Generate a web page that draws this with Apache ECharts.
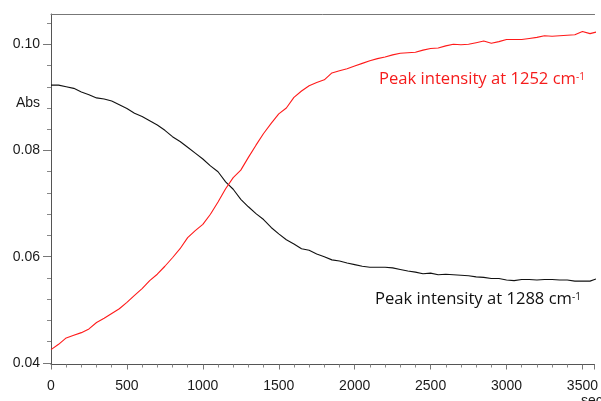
<!DOCTYPE html>
<html>
	<head>
		<title>Peak intensity</title>
		<script src="https://cdn.jsdelivr.net/npm/echarts@6/dist/echarts.min.js"></script>
	</head>
	<body style="margin:0;padding:0">
		<div id="main" style="width: 601px;height:401px;"></div>
	</body>
	<script type="text/javascript">
// time (sec)
var times = [0, 50, 100, 150, 200, 250, 300, 350, 400, 450, 500, 550, 600, 650, 700, 750, 800, 850, 900, 950,
    1000, 1050, 1100, 1150, 1200, 1250, 1300, 1350, 1400, 1450, 1500, 1550, 1600, 1650, 1700, 1750, 1800, 1850, 1900, 1950,
    2000, 2050, 2100, 2150, 2200, 2250, 2300, 2350, 2400, 2450, 2500, 2550, 2600, 2650, 2700, 2750, 2800, 2850, 2900, 2950,
    3000, 3050, 3100, 3150, 3200, 3250, 3300, 3350, 3400, 3450, 3500, 3550, 3590];
// peak at 1252 cm-1 (red)
var peak1252 = [0.0425, 0.0435, 0.0447, 0.0452, 0.0457, 0.0464, 0.0476, 0.0484, 0.0493, 0.0502, 0.0514, 0.0527, 0.0540, 0.0555, 0.0567, 0.0582, 0.0598, 0.0615, 0.0636, 0.0649,
    0.0661, 0.0680, 0.0703, 0.0728, 0.0749, 0.0763, 0.0787, 0.0810, 0.0832, 0.0851, 0.0869, 0.0880, 0.0900, 0.0912, 0.0922, 0.0928, 0.0933, 0.0946, 0.0950, 0.0954,
    0.0959, 0.0964, 0.0969, 0.0973, 0.0976, 0.0980, 0.0983, 0.0984, 0.0985, 0.0989, 0.0992, 0.0993, 0.0997, 0.1000, 0.0999, 0.1000, 0.1003, 0.1006, 0.1002, 0.1005,
    0.1009, 0.1009, 0.1009, 0.1011, 0.1013, 0.1016, 0.1015, 0.1016, 0.1017, 0.1018, 0.1024, 0.1020, 0.1023];
// peak at 1288 cm-1 (black)
var peak1288 = [0.0923, 0.0923, 0.0920, 0.0917, 0.0910, 0.0905, 0.0899, 0.0897, 0.0893, 0.0886, 0.0879, 0.0870, 0.0864, 0.0856, 0.0848, 0.0838, 0.0826, 0.0817, 0.0806, 0.0795,
    0.0784, 0.0771, 0.0760, 0.0741, 0.0727, 0.0708, 0.0694, 0.0681, 0.0670, 0.0655, 0.0643, 0.0632, 0.0624, 0.0615, 0.0612, 0.0605, 0.0600, 0.0594, 0.0592, 0.0588,
    0.0585, 0.0582, 0.0580, 0.0580, 0.0580, 0.0579, 0.0576, 0.0573, 0.0571, 0.0568, 0.0569, 0.0566, 0.0567, 0.0566, 0.0565, 0.0564, 0.0562, 0.0561, 0.0559, 0.0559,
    0.0556, 0.0555, 0.0557, 0.0557, 0.0556, 0.0557, 0.0557, 0.0556, 0.0556, 0.0554, 0.0554, 0.0554, 0.0558];
var yMajor = [0.04, 0.06, 0.08, 0.10];
var yMinor = [0.044, 0.048, 0.052, 0.056, 0.064, 0.068, 0.072, 0.076, 0.084, 0.088, 0.092, 0.096, 0.104];

var myChart = echarts.init(document.getElementById('main'));

function pairs(vals) {
    return times.map(function (t, i) { return [t, vals[i]]; });
}

var labelFont = { color: '#1a1a1a', fontFamily: 'Liberation Sans', fontSize: 14 };
var yMin = 0.0397, yMax = 0.1057;

var option = {
    backgroundColor: '#fff',
    animation: false,
    grid: { left: 51, right: 1, top: 14, bottom: 36.5, containLabel: false },
    xAxis: [{
        type: 'value',
        min: 0,
        max: 3580,
        interval: 500,
        axisLine: { onZero: false, lineStyle: { color: '#555', width: 1 } },
        axisTick: { length: 5, lineStyle: { color: '#777' } },
        minorTick: { show: true, splitNumber: 5, length: 3, lineStyle: { color: '#888' } },
        axisLabel: Object.assign({
            margin: 10,
            formatter: function (v) { return String(v); }
        }, labelFont),
        splitLine: { show: false }
    }, {
        type: 'value',
        position: 'top',
        min: 0,
        max: 3580,
        axisLine: { show: true, onZero: false, lineStyle: { color: '#777', width: 1 } },
        axisTick: { show: false },
        axisLabel: { show: false },
        splitLine: { show: false }
    }],
    yAxis: [{
        type: 'value',
        min: yMin,
        max: yMax,
        axisLine: { show: true, onZero: false, lineStyle: { color: '#555', width: 1 } },
        axisTick: { show: true, customValues: yMajor, length: 8, lineStyle: { color: '#777' } },
        axisLabel: Object.assign({
            customValues: yMajor,
            margin: 11,
            formatter: function (v) { return v.toFixed(2); }
        }, labelFont),
        splitLine: { show: false }
    }, {
        type: 'value',
        position: 'left',
        min: yMin,
        max: yMax,
        axisLine: { show: false },
        axisTick: { show: true, customValues: yMinor, length: 4, lineStyle: { color: '#888' } },
        axisLabel: { show: false },
        splitLine: { show: false }
    }],
    series: [{
        name: '1288',
        type: 'line',
        data: pairs(peak1288),
        showSymbol: false,
        lineStyle: { color: '#111', width: 1.1 }
    }, {
        name: '1252',
        type: 'line',
        data: pairs(peak1252),
        showSymbol: false,
        lineStyle: { color: '#ff1a1a', width: 1.1 }
    }],
    graphic: [{
        type: 'text',
        left: 16,
        top: 91,
        style: { text: 'Abs', fill: '#1a1a1a', font: '14px "Liberation Sans"' }
    }, {
        type: 'text',
        left: 581,
        top: 389,
        style: { text: 'sec', fill: '#1a1a1a', font: '14px "Liberation Sans"' }
    }, {
        type: 'text',
        left: 379,
        top: 66,
        style: {
            text: '{a|Peak intensity at 1252 cm}{s|-1}',
            rich: {
                a: { fill: '#f51c1c', fontFamily: 'Open Sans', fontSize: 16.6, lineHeight: 20 },
                s: { fill: '#f51c1c', fontFamily: 'Open Sans', fontSize: 10, lineHeight: 20, verticalAlign: 'top' }
            }
        }
    }, {
        type: 'text',
        left: 375,
        top: 286,
        style: {
            text: '{a|Peak intensity at 1288 cm}{s|-1}',
            rich: {
                a: { fill: '#111', fontFamily: 'Open Sans', fontSize: 16.6, lineHeight: 20 },
                s: { fill: '#111', fontFamily: 'Open Sans', fontSize: 10, lineHeight: 20, verticalAlign: 'top' }
            }
        }
    }]
};

myChart.setOption(option);
	</script>
</html>
